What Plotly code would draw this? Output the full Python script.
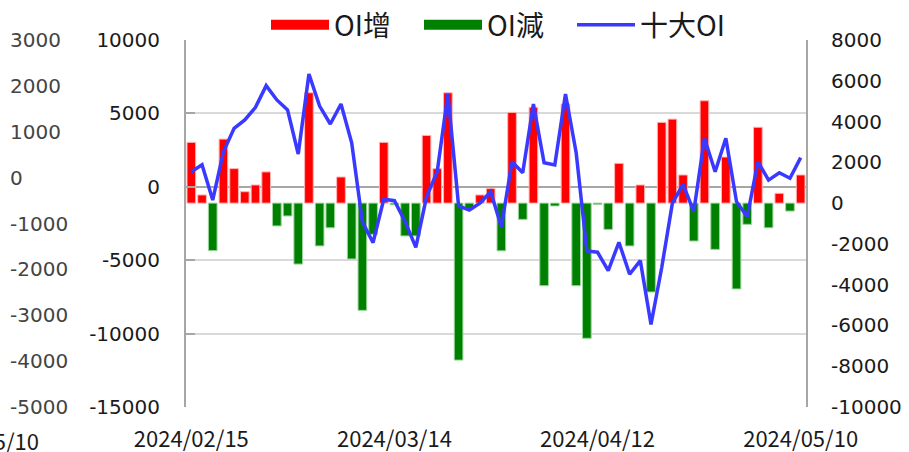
import plotly.graph_objects as go

dates = [
    "2024/02/15", "2024/02/16", "2024/02/19", "2024/02/20", "2024/02/21", "2024/02/22", "2024/02/23",
    "2024/02/26", "2024/02/27", "2024/02/29", "2024/03/01", "2024/03/04", "2024/03/05", "2024/03/06",
    "2024/03/07", "2024/03/08", "2024/03/11", "2024/03/12", "2024/03/13", "2024/03/14", "2024/03/15",
    "2024/03/18", "2024/03/19", "2024/03/20", "2024/03/21", "2024/03/22", "2024/03/25", "2024/03/26",
    "2024/03/27", "2024/03/28", "2024/03/29", "2024/04/01", "2024/04/02", "2024/04/03", "2024/04/08",
    "2024/04/09", "2024/04/10", "2024/04/11", "2024/04/12", "2024/04/15", "2024/04/16", "2024/04/17",
    "2024/04/18", "2024/04/19", "2024/04/22", "2024/04/23", "2024/04/24", "2024/04/25", "2024/04/26",
    "2024/04/29", "2024/04/30", "2024/05/02", "2024/05/03", "2024/05/06", "2024/05/07", "2024/05/08",
    "2024/05/09", "2024/05/10",
]

# daily change of OI (positive -> OI增, negative -> OI減)
oi_change = [
    2980, 400, -2330, 3140, 1690, 560, 890, 1530, -1120, -630,
    -2990, 5410, -2100, -1210, 1280, -2740, -5260, -1530, 2980, -80,
    -1610, -1610, 3320, 1690, 5410, -7700, -300, 400, 710, -2340,
    4450, -800, 4700, -4050, -140, 4860, -4050, -6630, -60, -1290,
    1950, -2100, 890, -4360, 3960, 4120, 1380, -1860, 5020, -2270,
    2260, -4210, -1040, 3720, -1210, 480, -390, 1380,
]

top10_oi = [
    1540, 1880, 150, 2520, 3670, 4080, 4700, 5760, 5060, 4570,
    2410, 6330, 4760, 3880, 4860, 2960, -910, -1940, 190, 120,
    -910, -2170, 310, 1540, 5350, -140, -340, 0, 560, -1160,
    2030, 1490, 4860, 1980, 1870, 5350, 2470, -2350, -2410, -3310,
    -1920, -3490, -2820, -5950, -3170, 0, 920, -420, 3180, 1540,
    3180, 70, -670, 2030, 1130, 1490, 1220, 2230,
]

tick_dates = ["2024/02/15", "2024/03/14", "2024/04/12", "2024/05/10"]
left_outer_ticks = [3000, 2000, 1000, 0, -1000, -2000, -3000, -4000, -5000]
left_inner_ticks = [10000, 5000, 0, -5000, -10000, -15000]
right_ticks = [8000, 6000, 4000, 2000, 0, -2000, -4000, -6000, -8000, -10000]

RED = "#ff0000"
GREEN = "#008000"
BLUE = "#3939ff"
CJK = "Noto Sans CJK TC"
NUM = "DejaVu Sans"

inc = [v if v > 0 else None for v in oi_change]
dec = [v if v < 0 else None for v in oi_change]
x_first = [dates[0]]

fig = go.Figure()
# carrier for the inner left axis (gridlines)
fig.add_trace(go.Scatter(x=x_first, y=[None], yaxis="y", showlegend=False, hoverinfo="skip"))
fig.add_trace(go.Bar(x=dates, y=inc, yaxis="y2", marker=dict(color=RED, line=dict(color="#ffb3b3", width=1)),
                     showlegend=False, name="OI增"))
fig.add_trace(go.Bar(x=dates, y=dec, yaxis="y2", marker=dict(color=GREEN, line=dict(color="#99d699", width=1)),
                     showlegend=False, name="OI減"))
fig.add_trace(go.Scatter(x=dates, y=top10_oi, yaxis="y2", mode="lines", line=dict(color=BLUE, width=3.5),
                         showlegend=False, name="十大OI"))
# legend entries
fig.add_trace(go.Scatter(x=x_first, y=[None], yaxis="y2", mode="lines", line=dict(color=RED, width=17), name="OI增"))
fig.add_trace(go.Scatter(x=x_first, y=[None], yaxis="y2", mode="lines", line=dict(color=GREEN, width=17), name="OI減"))
fig.add_trace(go.Scatter(x=x_first, y=[None], yaxis="y2", mode="lines", line=dict(color=BLUE, width=3.5), name="十大OI"))
# outer left axis carrier
fig.add_trace(go.Scatter(x=x_first, y=[None], yaxis="y3", showlegend=False, hoverinfo="skip"))

W, H = 909, 452
x0, x1 = 186, 806


def labels(vals):
    return [str(v) for v in vals]


fig.update_layout(
    width=W, height=H,
    margin=dict(l=0, r=0, t=40, b=45, autoexpand=False),
    paper_bgcolor="white", plot_bgcolor="white",
    barmode="relative", bargap=0.19,
    font=dict(family=NUM, size=20, color="#1a1a1a"),
    xaxis=dict(
        domain=[x0 / W, x1 / W], type="category", categoryorder="array", categoryarray=dates,
        range=[-0.5, len(dates) - 0.5],
        tickmode="array", tickvals=tick_dates, ticktext=tick_dates, ticks="",
        showgrid=False, showline=False, zeroline=False, automargin=False,
        tickfont=dict(family=CJK, size=22, color="#1a1a1a"), ticklabelstandoff=17,
    ),
    yaxis=dict(
        range=[-15000, 10000], tickmode="array", tickvals=left_inner_ticks, ticktext=labels(left_inner_ticks),
        showgrid=True, gridcolor="#d9d9d9", gridwidth=1.5,
        zeroline=True, zerolinecolor="#a6a6a6", zerolinewidth=2,
        showline=True, linecolor="#a6a6a6", linewidth=2, automargin=False,
        ticks="inside", ticklen=9, tickcolor="#a6a6a6", tickwidth=2,
        ticklabelstandoff=20, tickfont=dict(family=NUM, size=20),
    ),
    yaxis2=dict(
        range=[-10000, 8000], tickmode="array", tickvals=right_ticks, ticktext=labels(right_ticks),
        overlaying="y", side="right", anchor="x", automargin=False,
        showgrid=False, zeroline=False, showline=True, linecolor="#a6a6a6", linewidth=2,
        ticks="", ticklabelstandoff=19, tickfont=dict(family=NUM, size=20),
    ),
    yaxis3=dict(
        range=[-5000, 3000], tickmode="array", tickvals=left_outer_ticks, ticktext=labels(left_outer_ticks),
        overlaying="y", side="left", anchor="free", position=0, automargin=False,
        ticklabelposition="inside", ticklabeloverflow="allow",
        showgrid=False, zeroline=False, showline=False, ticks="", ticklabelstandoff=6,
        tickfont=dict(family=NUM, size=20),
    ),
    legend=dict(
        orientation="h", xref="paper", x=266 / W, xanchor="left", yref="container", y=1, yanchor="top",
        font=dict(family=CJK, size=28, color="#1a1a1a"), itemwidth=58, entrywidth=80,
        bgcolor="rgba(0,0,0,0)",
    ),
    annotations=[dict(
        text="2024/05/10", xref="paper", yref="paper", x=-18.5 / W, y=-33 / 367, xanchor="center", yanchor="middle",
        showarrow=False, font=dict(family=CJK, size=22, color="#1a1a1a"),
    )],
)

fig.write_html(
    "out.html",
    config={"displayModeBar": False},
    post_script="document.body.style.margin='0';document.body.style.padding='0';",
)
